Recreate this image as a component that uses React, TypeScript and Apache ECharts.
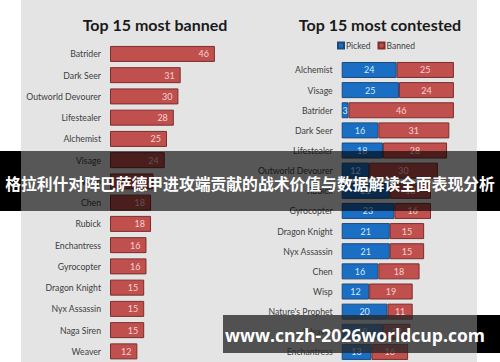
import React, { useEffect, useRef } from "react";
import * as echarts from "echarts";

const bannedHeroes = ["Batrider", "Dark Seer", "Outworld Devourer", "Lifestealer", "Alchemist", "Visage", "Wisp", "Chen", "Rubick", "Enchantress", "Gyrocopter", "Dragon Knight", "Nyx Assassin", "Naga Siren", "Weaver"];
const bannedCounts = [46, 31, 30, 28, 25, 24, 19, 18, 18, 16, 16, 15, 15, 15, 12];

const contestedHeroes = ["Alchemist", "Visage", "Batrider", "Dark Seer", "Lifestealer", "Outworld Devourer", "Rubick", "Gyrocopter", "Dragon Knight", "Nyx Assassin", "Chen", "Wisp", "Nature's Prophet", "Weaver", "Enchantress"];
const contestedPicked = [24, 25, 3, 16, 18, 12, 21, 23, 21, 21, 16, 12, 20, 18, 13];
const contestedBanned = [25, 24, 46, 31, 28, 30, 18, 16, 15, 15, 18, 19, 11, 12, 16];

const titleLeft = "Top 15 most banned";
const titleRight = "Top 15 most contested";
const bannerText = "格拉利什对阵巴萨德甲进攻端贡献的战术价值与数据解读全面表现分析";
const watermarkText = "www.cnzh-2026worldcup.com";

const RED = "#c0504d";
const RED_BORDER = "#7d2d2b";
const BLUE = "#1a6fc4";
const BLUE_BORDER = "#1b4a7a";
const FONT = "Lato";

export default function App() {
  const ref = useRef<HTMLDivElement>(null);
  useEffect(() => {
    const chart = echarts.init(ref.current!, null, { renderer: "svg" });
    const catAxisLabel = { color: "#404040", fontSize: 8.7, fontFamily: FONT, margin: 9 };
    chart.setOption({
      animation: false,
      backgroundColor: "#ffffff",
      title: [
        { text: titleLeft, left: 150, top: 11, textAlign: "center", textStyle: { fontFamily: FONT, fontSize: 16, fontWeight: "bold", color: "#1a1a1a" } },
        { text: titleRight, left: 375, top: 11, textAlign: "center", textStyle: { fontFamily: FONT, fontSize: 16, fontWeight: "bold", color: "#1a1a1a" } },
      ],
      legend: {
        data: ["Picked", "Banned"],
        left: 332,
        top: 36,
        itemWidth: 6,
        itemHeight: 6,
        itemGap: 7,
        icon: "rect",
        textStyle: { fontFamily: FONT, fontSize: 8.5, color: "#404040", padding: [0, 0, 0, -3] },
      },
      grid: [
        { left: 110, top: 43.3, width: 114, height: 320.2 },
        { left: 341.7, top: 59.9, width: 114.5, height: 303 },
      ],
      xAxis: [
        { type: "value", gridIndex: 0, min: 0, max: 50, show: false },
        { type: "value", gridIndex: 1, min: 0, max: 50, show: false },
      ],
      yAxis: [
        { type: "category", gridIndex: 0, data: bannedHeroes, inverse: true, axisLine: { show: false }, axisTick: { show: false }, axisLabel: catAxisLabel },
        { type: "category", gridIndex: 1, data: contestedHeroes, inverse: true, axisLine: { show: false }, axisTick: { show: false }, axisLabel: catAxisLabel },
      ],
      series: [
        {
          type: "bar",
          name: "BannedOnly",
          xAxisIndex: 0,
          yAxisIndex: 0,
          data: bannedCounts,
          barWidth: 16,
          itemStyle: { color: RED, borderColor: RED_BORDER, borderWidth: 1 },
          label: { show: true, position: "insideRight", distance: 6, color: "#f6d3d2", fontSize: 9, fontFamily: FONT },
        },
        {
          type: "bar",
          name: "Picked",
          xAxisIndex: 1,
          yAxisIndex: 1,
          stack: "c",
          data: contestedPicked,
          barWidth: 16,
          itemStyle: { color: BLUE, borderColor: BLUE_BORDER, borderWidth: 1 },
          label: { show: true, position: "inside", color: "#d6e8f8", fontSize: 9, fontFamily: FONT },
        },
        {
          type: "bar",
          name: "Banned",
          xAxisIndex: 1,
          yAxisIndex: 1,
          stack: "c",
          data: contestedBanned,
          barWidth: 16,
          itemStyle: { color: RED, borderColor: RED_BORDER, borderWidth: 1 },
          label: { show: true, position: "inside", color: "#f6d3d2", fontSize: 9, fontFamily: FONT },
        },
      ],
      graphic: [
        { type: "rect", z: -10, silent: true, shape: { x: 21, y: 0, width: 456, height: 362 }, style: { fill: "#e4e4e4" } },
        { type: "rect", z: 100, shape: { x: 0, y: 151, width: 21, height: 60 }, style: { fill: "#000000" } },
        { type: "rect", z: 100, shape: { x: 477, y: 151, width: 23, height: 60 }, style: { fill: "#000000" } },
        { type: "rect", z: 100, shape: { x: 21, y: 151, width: 456, height: 60 }, style: { fill: "rgba(0,0,0,0.62)" } },
        { type: "text", z: 101, x: 250, y: 183, style: { text: bannerText, fill: "#ffffff", font: "bold 15.8px 'Noto Sans CJK SC'", align: "center", verticalAlign: "middle" } },
        { type: "rect", z: 100, shape: { x: 477, y: 315, width: 23, height: 38 }, style: { fill: "#000000" } },
        { type: "rect", z: 100, shape: { x: 223, y: 315, width: 254, height: 38 }, style: { fill: "rgba(40,40,40,0.78)" } },
        { type: "text", z: 101, x: 355, y: 335, style: { text: watermarkText, fill: "#ffffff", font: "bold 17.5px 'Open Sans'", align: "center", verticalAlign: "middle" } },
      ],
    });
    return () => chart.dispose();
  }, []);
  return <div ref={ref} style={{ width: 500, height: 362, position: "absolute", left: 0, top: 0 }} />;
}
